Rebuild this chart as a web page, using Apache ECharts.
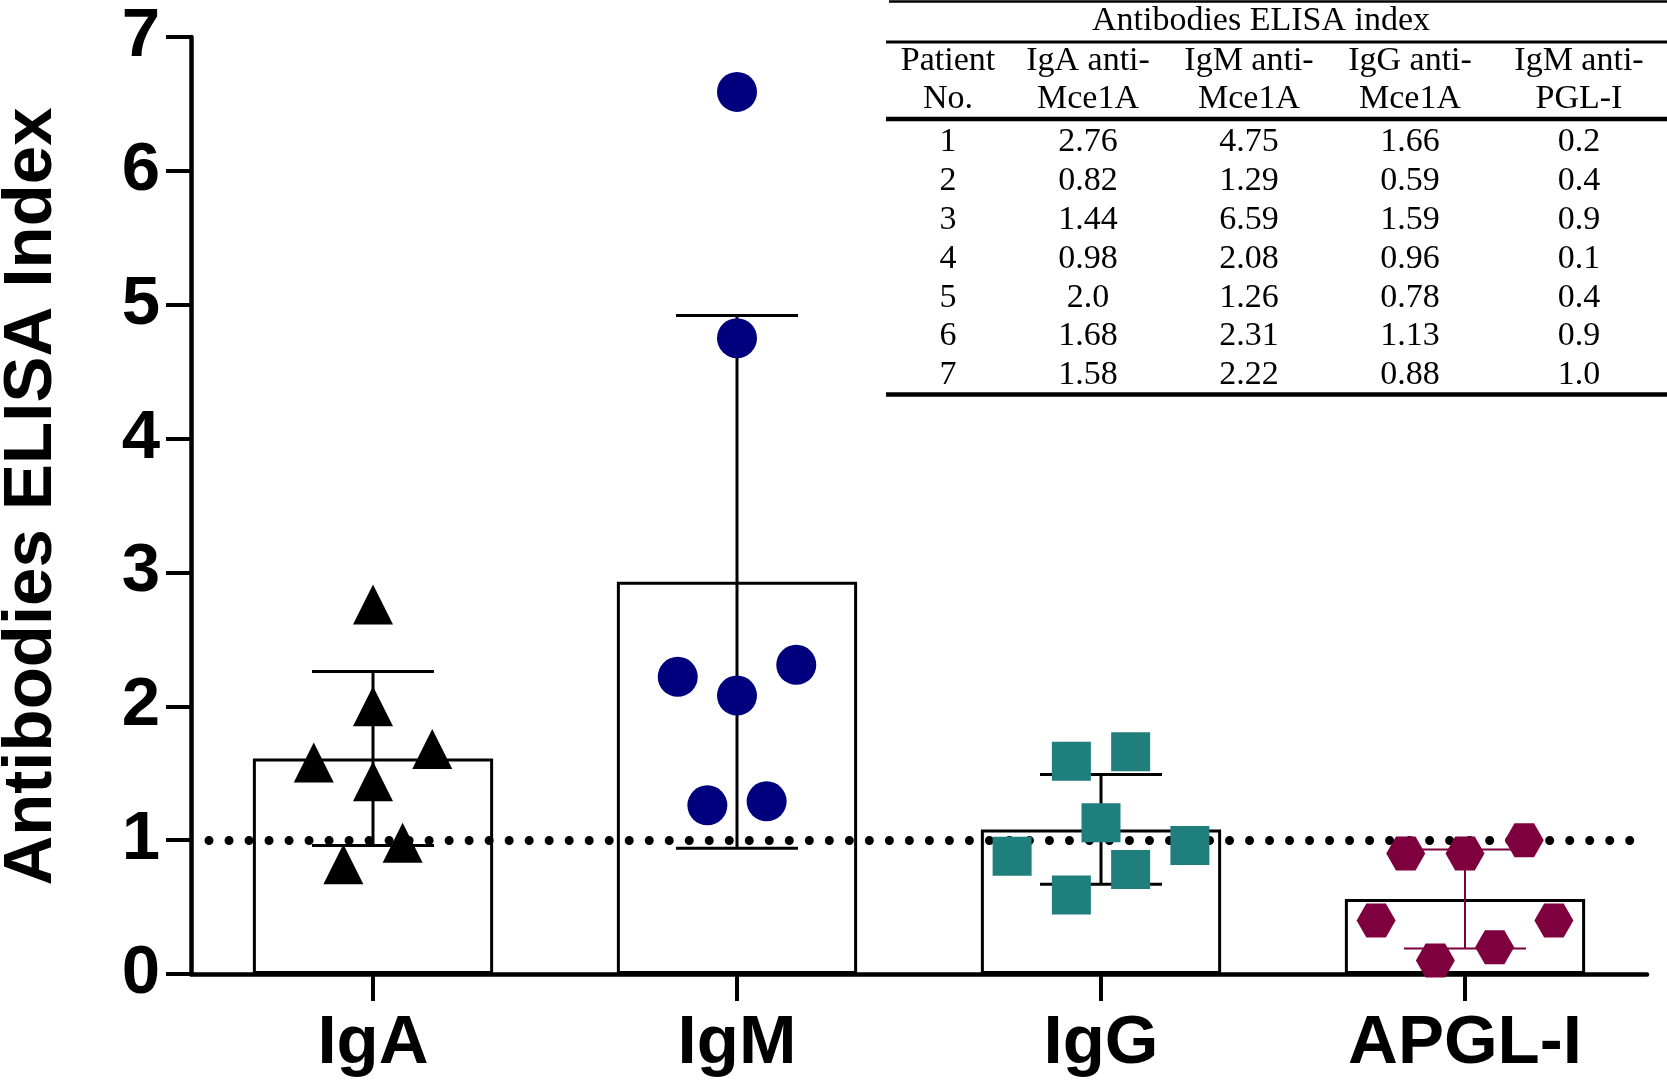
<!DOCTYPE html>
<html><head><meta charset="utf-8">
<script src="https://cdn.jsdelivr.net/npm/echarts@6/dist/echarts.min.js"></script>
<style>html,body{margin:0;padding:0;background:#fff}#chart{width:1667px;height:1081px}</style>
</head><body><div id="chart"></div>
<script>
// ---- data ----
const categories = ['IgA', 'IgM', 'IgG', 'APGL-I'];
const patientNo = ['1', '2', '3', '4', '5', '6', '7'];
const igaText = ['2.76', '0.82', '1.44', '0.98', '2.0', '1.68', '1.58'];
const igmText = ['4.75', '1.29', '6.59', '2.08', '1.26', '2.31', '2.22'];
const iggText = ['1.66', '0.59', '1.59', '0.96', '0.78', '1.13', '0.88'];
const pglText = ['0.2', '0.4', '0.9', '0.1', '0.4', '0.9', '1.0'];
const means = [1.61, 2.93, 1.08, 0.56];
const sds = [0.65, 1.99, 0.41, 0.37];
const cutoff = 1;
const yTicks = [0, 1, 2, 3, 4, 5, 6, 7];
const tableTitle = 'Antibodies ELISA index';
const tableHeaders = [['Patient', 'No.'], ['IgA anti-', 'Mce1A'], ['IgM anti-', 'Mce1A'], ['IgG anti-', 'Mce1A'], ['IgM anti-', 'PGL-I']];
// scatter lane (column) layout of dots within each group
const igaLanes = [0, -1, 0, 1, 0, 2, -2];
const igmLanes = [0, 1, 0, 0, -1, 2, -2];
const iggLanes = [1, -1, -1, 3, 1, 0, -3];
const pglLanes = [1, -3, -2, -1, 3, 0, 2];

// ---- styles ----
const groupColors = ['#000000', '#00007f', '#1e7f7c', '#7f003f'];
const errColors = ['#000000', '#000000', '#000000', '#7f003f'];
const errWidths = [3, 3, 3, 2];
const laneUnit = 0.0814;
const SANS = '"Liberation Sans", Arial, Helvetica, sans-serif';
const SERIF = '"Liberation Serif", "Times New Roman", serif';
const hexPath = 'path://M0,0.5 L0.25,0 L0.75,0 L1,0.5 L0.75,1 L0.25,1 Z';

const groups = [
  {vals: igaText, lanes: igaLanes, symbol: 'triangle', size: [40, 40]},
  {vals: igmText, lanes: igmLanes, symbol: 'circle', size: [40, 40]},
  {vals: iggText, lanes: iggLanes, symbol: 'rect', size: [39, 39]},
  {vals: pglText, lanes: pglLanes, symbol: hexPath, size: [39, 34]}
];

const scatterSeries = groups.map((g, gi) => ({
  type: 'scatter',
  name: categories[gi],
  xAxisIndex: 1,
  yAxisIndex: 0,
  symbol: g.symbol,
  symbolSize: g.size,
  z: 10,
  silent: true,
  itemStyle: {color: groupColors[gi], opacity: 1},
  data: g.vals.map((v, i) => [gi + g.lanes[i] * laneUnit, Number(v)])
}));

// ---- table graphic ----
const tLeft = 886, tRight = 1667;
const colX = [948, 1088, 1249, 1410, 1579];
const rowY0 = 142.5, rowStep = 38.8;
const tableCols = [patientNo, igaText, igmText, iggText, pglText];
const graphics = [];
function txt(x, y, s) {
  graphics.push({type: 'text', x: x, y: y, silent: true, z: 100,
    style: {text: s, font: '34px ' + SERIF, fill: '#000', align: 'center', verticalAlign: 'middle',
      textAlign: 'center', textVerticalAlign: 'middle'}});
}
function hline(y, w, x1) {
  graphics.push({type: 'line', silent: true, z: 100, shape: {x1: x1, y1: y, x2: tRight, y2: y},
    style: {stroke: '#000', lineWidth: w}});
}
hline(1.5, 2.5, 889);
hline(42, 3, tLeft);
hline(119, 4.5, tLeft);
hline(394.5, 4.5, tLeft);
txt(1261, 21.5, tableTitle);
tableHeaders.forEach((h, c) => { txt(colX[c], 61.5, h[0]); txt(colX[c], 99.5, h[1]); });
tableCols.forEach((col, c) => col.forEach((s, r) => txt(colX[c], rowY0 + r * rowStep, s)));

const chart = echarts.init(document.getElementById('chart'), null, {renderer: 'canvas'});
chart.setOption({
  animation: false,
  backgroundColor: '#fff',
  grid: {left: 191, right: 20, top: 37, bottom: 107, containLabel: false, outerBoundsMode: 'none'},
  xAxis: [{
    type: 'category',
    data: categories,
    boundaryGap: true,
    axisLine: {show: true, onZero: false, lineStyle: {color: '#000', width: 4.5}},
    axisTick: {show: true, alignWithLabel: true, length: 27, lineStyle: {color: '#000', width: 4}},
    axisLabel: {color: '#000', fontFamily: SANS, fontWeight: 'bold', fontSize: 69, margin: 35, interval: 0},
    splitLine: {show: false}
  }, {
    type: 'value', min: -0.5, max: 3.5, show: false,
    axisLine: {onZero: false}
  }],
  yAxis: [{
    type: 'value', min: yTicks[0], max: yTicks[yTicks.length - 1], interval: 1,
    name: 'Antibodies ELISA Index',
    nameLocation: 'middle',
    nameGap: 125,
    nameTextStyle: {color: '#000', fontFamily: SANS, fontWeight: 'bold', fontSize: 69, padding: [0, 0, 0, 18]},
    axisLine: {show: true, onZero: false, lineStyle: {color: '#000', width: 4.5}},
    axisTick: {show: true, length: 25, lineStyle: {color: '#000', width: 4}},
    axisLabel: {color: '#000', fontFamily: SANS, fontWeight: 'bold', fontSize: 69, margin: 31},
    splitLine: {show: false}
  }],
  graphic: {elements: graphics},
  series: [{
    type: 'bar',
    data: means,
    barWidth: '66%',
    z: 1,
    silent: true,
    itemStyle: {color: '#fff', borderColor: '#000', borderWidth: 3},
    markLine: {
      silent: true, symbol: 'none', z: 5,
      label: {show: false},
      lineStyle: {color: '#000', width: 9, type: [0.01, 20], cap: 'round', dashOffset: 2},
      data: [{yAxis: cutoff}]
    }
  }, {
    type: 'custom',
    z: 7,
    silent: true,
    data: means.map((m, i) => [i, m - sds[i], m + sds[i]]),
    renderItem: function (params, api) {
      const i = api.value(0);
      const lo = api.coord([i, api.value(1)]);
      const hi = api.coord([i, api.value(2)]);
      const half = 61;
      const st = {stroke: errColors[i], lineWidth: errWidths[i]};
      return {type: 'group', children: [
        {type: 'line', shape: {x1: hi[0], y1: hi[1], x2: lo[0], y2: lo[1]}, style: st},
        {type: 'line', shape: {x1: hi[0] - half, y1: hi[1], x2: hi[0] + half, y2: hi[1]}, style: st},
        {type: 'line', shape: {x1: lo[0] - half, y1: lo[1], x2: lo[0] + half, y2: lo[1]}, style: st}
      ]};
    }
  }].concat(scatterSeries)
});
</script>
</body></html>
